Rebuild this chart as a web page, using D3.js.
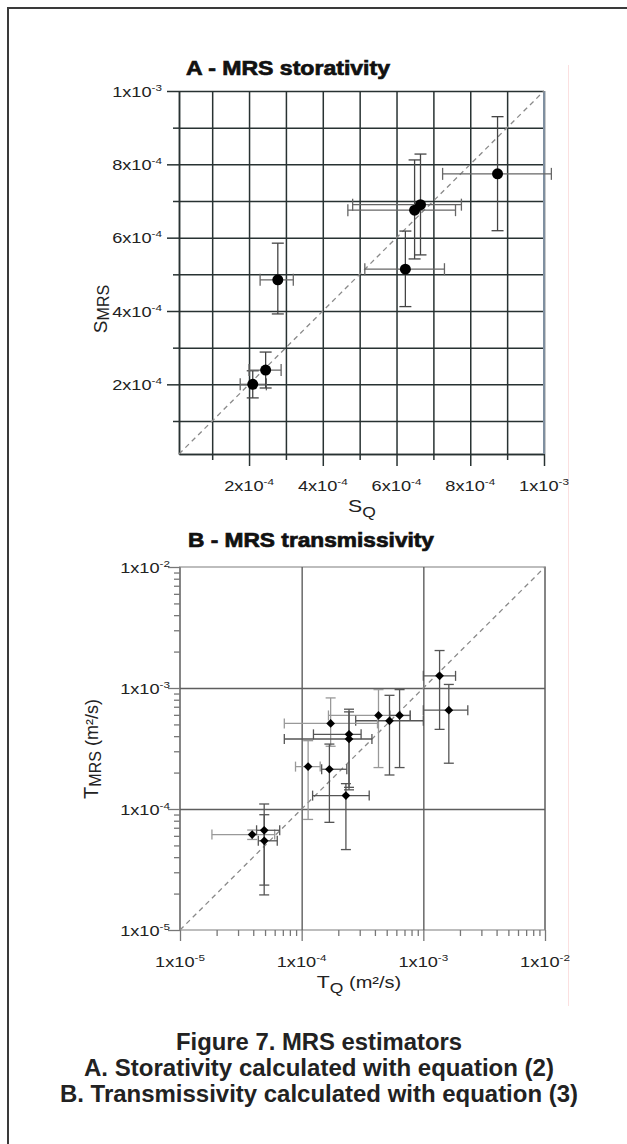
<!DOCTYPE html>
<html>
<head>
<meta charset="utf-8">
<script src="https://cdnjs.cloudflare.com/ajax/libs/d3/7.8.5/d3.min.js"></script>
<style>
  body { margin: 0; background: #fff; }
  svg { display: block; font-family: "Liberation Sans", Arial, sans-serif; }
</style>
</head>
<body>
<div class="chart"></div>
<script>
// A - storativity (S_Q vs S_MRS), with error bar ends
var sqVals   = [2.1e-4, 2.45e-4, 2.78e-4, 6.24e-4, 6.49e-4, 6.65e-4, 8.74e-4];
var sqLow    = [1.76e-4, 2.0e-4, 2.3e-4, 5.14e-4, 4.68e-4, 4.81e-4, 7.25e-4];
var sqHigh   = [2.47e-4, 2.87e-4, 3.2e-4, 7.3e-4, 7.6e-4, 7.76e-4, 1.02e-3];
var smrsVals = [2.0e-4, 2.39e-4, 4.85e-4, 5.14e-4, 6.75e-4, 6.9e-4, 7.74e-4];
var smrsLow  = [1.63e-4, 1.9e-4, 3.92e-4, 4.12e-4, 5.42e-4, 5.53e-4, 6.19e-4];
var smrsHigh = [2.37e-4, 2.88e-4, 5.85e-4, 6.18e-4, 8.12e-4, 8.28e-4, 9.3e-4];

// B - transmissivity (T_Q vs T_MRS, m2/s)
var tqVals   = [1.36e-3, 1.62e-3, 4.28e-4, 6.38e-4, 5.27e-4, 1.73e-4, 2.45e-4, 2.45e-4, 1.13e-4, 1.69e-4, 2.31e-4, 3.92e-5, 4.92e-5, 4.93e-5];
var tqLow    = [1.0e-3, 1.0e-3, 1.66e-4, 5.3e-4, 2.78e-4, 7.2e-5, 1.25e-4, 7.2e-5, 8.9e-5, 1.46e-4, 1.23e-4, 1.83e-5, 4.26e-5, 4.4e-5];
var tqHigh   = [1.84e-3, 2.32e-3, 7.8e-4, 7.8e-4, 1.0e-3, 4.2e-4, 3.08e-4, 3.78e-4, 1.42e-4, 2.35e-4, 3.59e-4, 6.0e-5, 6.6e-5, 6.3e-5];
var tmrsVals = [1.26e-3, 6.56e-4, 5.93e-4, 5.93e-4, 5.36e-4, 5.1e-4, 4.14e-4, 3.79e-4, 2.24e-4, 2.13e-4, 1.29e-4, 6.15e-5, 6.67e-5, 5.46e-5];
var tmrsLow  = [4.55e-4, 2.39e-4, 2.2e-4, 2.2e-4, 1.91e-4, 3.3e-4, 1.51e-4, 1.44e-4, 8.2e-5, 7.76e-5, 4.62e-5, 5.6e-5, 1.95e-5, 2.35e-5];
var tmrsHigh = [2.04e-3, 1.07e-3, 9.7e-4, 9.7e-4, 8.7e-4, 8.28e-4, 6.68e-4, 6.35e-4, 3.67e-4, 3.44e-4, 1.62e-4, 6.7e-5, 1.1e-4, 8.97e-5];

// tick labels
var aTickVals = [2e-4, 4e-4, 6e-4, 8e-4, 1e-3];
var aTickMant = ["2", "4", "6", "8", "1"];
var aTickExp  = ["-4", "-4", "-4", "-4", "-3"];
var bTickVals = [1e-5, 1e-4, 1e-3, 1e-2];
var bTickExp  = ["-5", "-4", "-3", "-2"];

var captionLines = ["Figure 7. MRS estimators",
  "A. Storativity calculated with equation (2)",
  "B. Transmissivity calculated with equation (3)"];

var svgWidth = 627;
var svgHeight = 1144;

var svg = d3.select(".chart")
  .append("svg")
  .attr("width", svgWidth)
  .attr("height", svgHeight);

// page frame (right / bottom sides fall outside the picture)
svg.append("rect")
  .attr("x", 8).attr("y", 8)
  .attr("width", 700).attr("height", 1300)
  .attr("fill", "none")
  .attr("stroke", "#3a3a3a")
  .attr("stroke-width", 2);

svg.append("line")
  .attr("x1", 568.5).attr("x2", 568.5)
  .attr("y1", 65).attr("y2", 1006)
  .attr("stroke", "#fbe0e0");

// little helper for "1x10^-3" style labels
function expLabel(sel, x, y, anchor, mant, exp) {
  var t = sel.append("g")
    .attr("transform", `translate(${x}, ${y})`)
    .append("text")
    .attr("transform", "scale(1.3,1)")
    .attr("text-anchor", anchor)
    .attr("fill", "#222");
  t.append("tspan").attr("font-size", 14).text(mant + "x10");
  t.append("tspan").attr("font-size", 9).attr("dy", -6).text(exp);
}

function title(txt, x, y, len) {
  svg.append("text")
    .attr("x", x).attr("y", y)
    .attr("font-size", 20)
    .attr("font-weight", "bold")
    .attr("fill", "#111")
    .attr("stroke", "#111")
    .attr("stroke-width", 0.7)
    .attr("textLength", len)
    .attr("lengthAdjust", "spacingAndGlyphs")
    .text(txt);
}

// ---------------- Panel A ----------------
var aLeft = 179, aTop = 91, aW = 365, aH = 363;
var gA = svg.append("g").attr("transform", `translate(${aLeft}, ${aTop})`);

var xA = d3.scaleLinear().domain([1e-5, 1e-3]).range([0, aW]);
var yA = d3.scaleLinear().domain([1e-5, 1e-3]).range([aH, 0]);

var aGrid = d3.range(1, 11).map(k => k * 1e-4);
var aMinor = aGrid.filter((d, i) => i % 2 === 0);

// grid
gA.append("g")
  .attr("class", "grid")
  .call(d3.axisLeft(yA).tickValues(aGrid).tickSize(-aW).tickFormat("").tickSizeOuter(0))
  .call(g => g.select(".domain").remove());
gA.append("g")
  .attr("class", "grid")
  .attr("transform", `translate(0, ${aH})`)
  .call(d3.axisBottom(xA).tickValues(aGrid).tickSize(-aH).tickFormat("").tickSizeOuter(0))
  .call(g => g.select(".domain").remove());
gA.selectAll(".grid line").attr("stroke", "#283232").attr("stroke-width", 1.5);

// axes ticks
gA.append("g").attr("class", "ax")
  .call(d3.axisLeft(yA).tickValues(aMinor).tickSize(6).tickFormat("").tickSizeOuter(0));
gA.append("g").attr("class", "ax")
  .call(d3.axisLeft(yA).tickValues(aTickVals).tickSize(12).tickFormat("").tickSizeOuter(0));
gA.append("g").attr("class", "ax")
  .attr("transform", `translate(0, ${aH})`)
  .call(d3.axisBottom(xA).tickValues(aMinor).tickSize(6).tickFormat("").tickSizeOuter(0));
gA.append("g").attr("class", "ax")
  .attr("transform", `translate(0, ${aH})`)
  .call(d3.axisBottom(xA).tickValues(aTickVals).tickSize(12).tickFormat("").tickSizeOuter(0));
gA.selectAll(".ax line, .ax path").attr("stroke", "#283232").attr("stroke-width", 1.5);

// right border a bit bluish
gA.append("line")
  .attr("x1", xA(1e-3)).attr("x2", xA(1e-3))
  .attr("y1", 0).attr("y2", aH)
  .attr("stroke", "#7f8fa0").attr("stroke-width", 2);

aTickVals.forEach(function(v, i) {
  expLabel(gA, -17, yA(v) + 5.5, "end", aTickMant[i], aTickExp[i]);
  expLabel(gA, xA(v), 400, "middle", aTickMant[i], aTickExp[i]);
});

// 1:1 line
gA.append("line")
  .attr("x1", xA(1e-5)).attr("y1", yA(1e-5))
  .attr("x2", xA(1e-3)).attr("y2", yA(1e-3))
  .attr("stroke", "#8a8a8a").attr("stroke-width", 1.3)
  .attr("stroke-dasharray", "5,4");

// error bars + points
var capA = 6;
sqVals.forEach(function(v, i) {
  var cx = xA(v), cy = yA(smrsVals[i]);
  var eb = gA.append("g")
    .attr("stroke", "#444").attr("stroke-width", 1.3).attr("fill", "none");
  eb.append("line").attr("x1", xA(sqLow[i])).attr("x2", xA(sqHigh[i])).attr("y1", cy).attr("y2", cy).attr("stroke", "#666");
  eb.append("line").attr("x1", xA(sqLow[i])).attr("x2", xA(sqLow[i])).attr("y1", cy - capA).attr("y2", cy + capA).attr("stroke", "#666");
  eb.append("line").attr("x1", xA(sqHigh[i])).attr("x2", xA(sqHigh[i])).attr("y1", cy - capA).attr("y2", cy + capA).attr("stroke", "#666");
  eb.append("line").attr("x1", cx).attr("x2", cx).attr("y1", yA(smrsLow[i])).attr("y2", yA(smrsHigh[i]));
  eb.append("line").attr("x1", cx - capA).attr("x2", cx + capA).attr("y1", yA(smrsLow[i])).attr("y2", yA(smrsLow[i]));
  eb.append("line").attr("x1", cx - capA).attr("x2", cx + capA).attr("y1", yA(smrsHigh[i])).attr("y2", yA(smrsHigh[i]));
});
gA.selectAll("circle.pt")
  .data(sqVals)
  .enter()
  .append("circle")
  .attr("class", "pt")
  .attr("cx", d => xA(d))
  .attr("cy", (d, i) => yA(smrsVals[i]))
  .attr("r", 5.5)
  .attr("fill", "#000");

title("A - MRS storativity", 186, 75, 204);

// axis titles A
var sLab = svg.append("text")
  .attr("transform", "translate(107, 309) rotate(-90)")
  .attr("text-anchor", "middle")
  .attr("fill", "#222");
sLab.append("tspan").attr("font-size", 19).text("S");
sLab.append("tspan").attr("font-size", 16).attr("dy", 2).text("MRS");

var sqLab = svg.append("text")
  .attr("transform", "translate(362, 512) scale(1.25,1)")
  .attr("text-anchor", "middle")
  .attr("fill", "#222");
sqLab.append("tspan").attr("font-size", 17).text("S");
sqLab.append("tspan").attr("font-size", 14).attr("dy", 5).text("Q");

// ---------------- Panel B ----------------
var bLeft = 180, bTop = 567, bW = 365, bH = 363;
var gB = svg.append("g").attr("transform", `translate(${bLeft}, ${bTop})`);

var xB = d3.scaleLog().domain([1e-5, 1e-2]).range([0, bW]);
var yB = d3.scaleLog().domain([1e-5, 1e-2]).range([bH, 0]);

var isDecade = d => Math.abs(Math.log10(d) - Math.round(Math.log10(d))) < 1e-6;
var bMinor = xB.ticks().filter(d => !isDecade(d));

// frame
gB.append("rect")
  .attr("width", bW).attr("height", bH)
  .attr("fill", "none").attr("stroke", "#bdbdbd").attr("stroke-width", 2);
gB.append("line").attr("x1", 0).attr("x2", 0).attr("y1", 0).attr("y2", bH)
  .attr("stroke", "#777").attr("stroke-width", 1.6);
gB.append("line").attr("x1", bW).attr("x2", bW).attr("y1", 0).attr("y2", bH)
  .attr("stroke", "#777").attr("stroke-width", 1.6);

// decade grid
gB.append("g")
  .attr("class", "gridb")
  .call(d3.axisLeft(yB).tickValues([1e-4, 1e-3]).tickSize(-bW).tickFormat("").tickSizeOuter(0))
  .call(g => g.select(".domain").remove());
gB.append("g")
  .attr("class", "gridb")
  .attr("transform", `translate(0, ${bH})`)
  .call(d3.axisBottom(xB).tickValues([1e-4, 1e-3]).tickSize(-bH).tickFormat("").tickSizeOuter(0))
  .call(g => g.select(".domain").remove());
gB.selectAll(".gridb line").attr("stroke", "#5e5e5e").attr("stroke-width", 1.4);

// ticks
gB.append("g").attr("class", "axb")
  .call(d3.axisLeft(yB).tickValues(bMinor).tickSize(6).tickFormat("").tickSizeOuter(0));
gB.append("g").attr("class", "axb")
  .call(d3.axisLeft(yB).tickValues(bTickVals).tickSize(12).tickFormat("").tickSizeOuter(0));
gB.append("g").attr("class", "axb")
  .attr("transform", `translate(0, ${bH})`)
  .call(d3.axisBottom(xB).tickValues(bMinor).tickSize(6).tickFormat("").tickSizeOuter(0));
gB.append("g").attr("class", "axb")
  .attr("transform", `translate(0, ${bH})`)
  .call(d3.axisBottom(xB).tickValues(bTickVals).tickSize(11).tickFormat("").tickSizeOuter(0));
gB.selectAll(".axb line").attr("stroke", "#777").attr("stroke-width", 1.3);
gB.selectAll(".axb path").attr("stroke", "none");

bTickVals.forEach(function(v, i) {
  expLabel(gB, -10, yB(v) + 6, "end", "1", bTickExp[i]);
  expLabel(gB, xB(v), 400, "middle", "1", bTickExp[i]);
});

gB.append("line")
  .attr("x1", xB(1e-5)).attr("y1", yB(1e-5))
  .attr("x2", xB(1e-2)).attr("y2", yB(1e-2))
  .attr("stroke", "#8a8a8a").attr("stroke-width", 1.3)
  .attr("stroke-dasharray", "5,4");

var capB = 5;
tqVals.forEach(function(v, i) {
  var cx = xB(v), cy = yB(tmrsVals[i]);
  var eb = gB.append("g")
    .attr("stroke", i % 3 === 2 ? "#999" : "#555")
    .attr("stroke-width", 1.3).attr("fill", "none");
  eb.append("line").attr("x1", xB(tqLow[i])).attr("x2", xB(tqHigh[i])).attr("y1", cy).attr("y2", cy);
  eb.append("line").attr("x1", xB(tqLow[i])).attr("x2", xB(tqLow[i])).attr("y1", cy - capB).attr("y2", cy + capB);
  eb.append("line").attr("x1", xB(tqHigh[i])).attr("x2", xB(tqHigh[i])).attr("y1", cy - capB).attr("y2", cy + capB);
  eb.append("line").attr("x1", cx).attr("x2", cx).attr("y1", yB(tmrsLow[i])).attr("y2", yB(tmrsHigh[i]));
  eb.append("line").attr("x1", cx - capB).attr("x2", cx + capB).attr("y1", yB(tmrsLow[i])).attr("y2", yB(tmrsLow[i]));
  eb.append("line").attr("x1", cx - capB).attr("x2", cx + capB).attr("y1", yB(tmrsHigh[i])).attr("y2", yB(tmrsHigh[i]));
});
gB.selectAll("path.pt")
  .data(tqVals)
  .enter()
  .append("path")
  .attr("class", "pt")
  .attr("d", d3.symbol(d3.symbolSquare, 38))
  .attr("transform", (d, i) => `translate(${xB(d)}, ${yB(tmrsVals[i])}) rotate(45)`)
  .attr("fill", "#000");

title("B - MRS transmissivity", 188, 547, 246);

var tLab = svg.append("text")
  .attr("transform", "translate(98, 749) rotate(-90)")
  .attr("text-anchor", "middle")
  .attr("fill", "#222");
tLab.append("tspan").attr("font-size", 20).text("T");
tLab.append("tspan").attr("font-size", 16).attr("dy", 3).text("MRS");
tLab.append("tspan").attr("font-size", 18).attr("dy", -3).text(" (m²/s)");

var tqLab = svg.append("text")
  .attr("transform", "translate(359, 988) scale(1.25,1)")
  .attr("text-anchor", "middle")
  .attr("fill", "#222");
tqLab.append("tspan").attr("font-size", 17).text("T");
tqLab.append("tspan").attr("font-size", 14).attr("dy", 5).text("Q");
tqLab.append("tspan").attr("font-size", 16).attr("dy", -5).text(" (m²/s)");

// caption
var capLens = [286, 470, 518];
var capY = [1050, 1076, 1102];
captionLines.forEach(function(txt, i) {
  svg.append("text")
    .attr("x", 319).attr("y", capY[i])
    .attr("text-anchor", "middle")
    .attr("font-size", 23)
    .attr("font-weight", "bold")
    .attr("fill", "#222")
    .attr("textLength", capLens[i])
    .attr("lengthAdjust", "spacingAndGlyphs")
    .text(txt);
});
</script>
</body>
</html>
